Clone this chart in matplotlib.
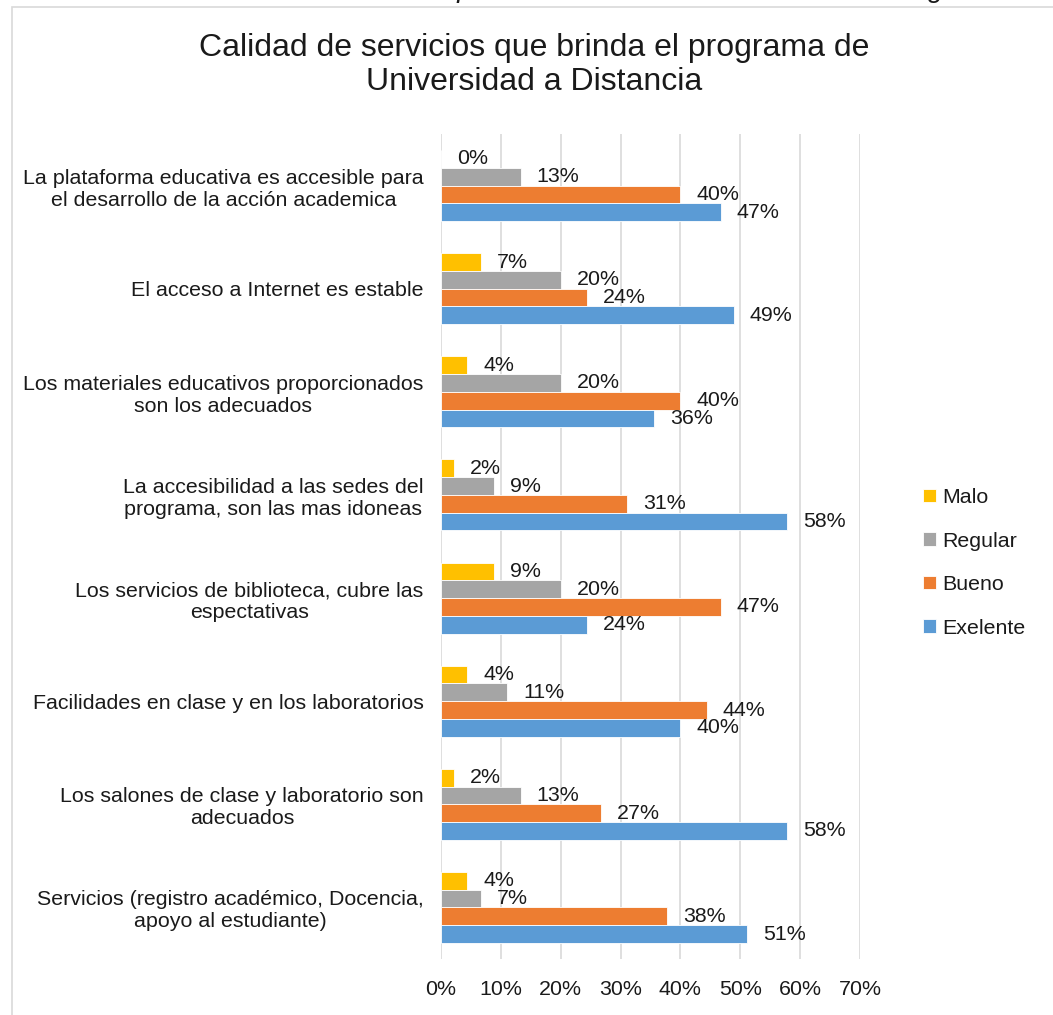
import matplotlib
matplotlib.use("Agg")
import matplotlib.pyplot as plt
from matplotlib.patches import Rectangle
import numpy as np

plt.rcParams['font.family'] = ['Liberation Sans', 'DejaVu Sans']

categories = [
    "La plataforma educativa es accesible para\nel desarrollo de la acción academica",
    "El acceso a Internet es estable",
    "Los materiales educativos proporcionados\nson los adecuados",
    "La accesibilidad a las sedes del\nprograma, son las mas idoneas",
    "Los servicios de biblioteca, cubre las\nespectativas",
    "Facilidades en clase y en los laboratorios",
    "Los salones de clase y laboratorio son\nadecuados",
    "Servicios (registro académico, Docencia,\napoyo al estudiante)",
]

series_names = ["Malo", "Regular", "Bueno", "Exelente"]
malo = [0.0, 6.7, 4.4, 2.2, 8.9, 4.4, 2.2, 4.4]
regular = [13.3, 20.0, 20.0, 8.9, 20.0, 11.1, 13.3, 6.7]
bueno = [40.0, 24.4, 40.0, 31.1, 46.7, 44.4, 26.7, 37.8]
exelente = [46.7, 48.9, 35.6, 57.8, 24.4, 40.0, 57.8, 51.1]
colors = ["#FFC000", "#A5A5A5", "#ED7D31", "#5B9BD5"]

x_ticks = [0, 10, 20, 30, 40, 50, 60, 70]

FS = 15.4
TXT = "#1a1a1a"
W, H = 1053, 1015
fig = plt.figure(figsize=(W / 100, H / 100), dpi=100)

# chart frame
fig.patches.append(Rectangle((12 / W, -0.05), 1.2, 1.05 - 7 / H,
                             transform=fig.transFigure, fill=False,
                             edgecolor="#D9D9D9", linewidth=1.2))

# caption line above the chart (clipped by the page edge)
fig.text(555 / W, 1 + 3 / H, "Evaluación de los Servicios que se brindan en el Desarrollo del Programa",
         ha="center", va="baseline", fontsize=20, style="italic", color=TXT)

ax = fig.add_axes([441 / W, 1 - 959 / H, (860 - 441) / W, (959 - 134) / H])

n = len(categories)
y = np.arange(n)
h = 0.172
data = [malo, regular, bueno, exelente]
for i, (name, vals, c) in enumerate(zip(series_names, data, colors)):
    pos = y + (i - 1.5) * h
    ax.barh(pos, vals, height=h, color=c, label=name, edgecolor="white", linewidth=0.6)
    for p, v in zip(pos, vals):
        ax.annotate(f"{v:.0f}%", xy=(v, p), xytext=(16, 0), textcoords="offset pixels",
                    ha="left", va="center", fontsize=FS, color=TXT)

ax.set_ylim(n - 0.5, -0.5)
ax.set_xlim(0, 70)
ax.set_xticks(x_ticks)
ax.set_xticklabels([f"{t}%" for t in x_ticks], fontsize=FS, color=TXT)
ax.tick_params(axis="x", length=0, pad=15)
ax.set_yticks(y)
ax.set_yticklabels(categories, fontsize=FS, color=TXT, multialignment="center")
ax.tick_params(axis="y", length=0, pad=12.5)
for s in ax.spines.values():
    s.set_visible(False)
ax.grid(axis="x", color="#D9D9D9", linewidth=1.2)
ax.set_axisbelow(True)

fig.text(534 / W, 1 - 65 / H, "Calidad de servicios que brinda el programa de\nUniversidad a Distancia",
         ha="center", va="center", fontsize=23, color=TXT, linespacing=1.15)

handles, labels = ax.get_legend_handles_labels()
leg = fig.legend(handles, labels, loc="upper left", bbox_to_anchor=(923 / W, 1 - 488 / H),
                 frameon=False, fontsize=FS, handlelength=0.6, handleheight=0.6,
                 handletextpad=0.3, labelspacing=1.15, borderaxespad=0, borderpad=0)
for t in leg.get_texts():
    t.set_color(TXT)

fig.savefig("out.png", dpi=100)
